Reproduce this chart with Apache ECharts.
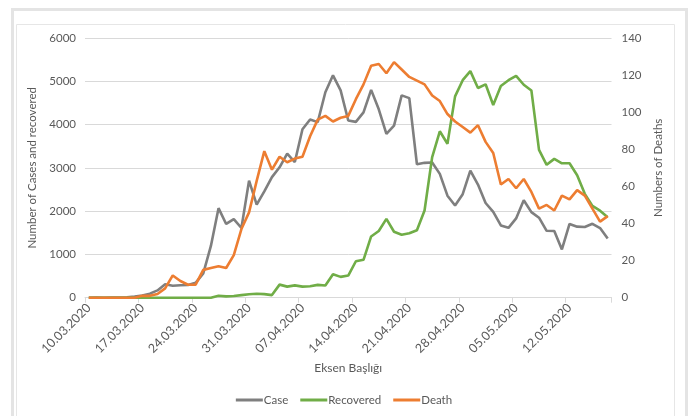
<!DOCTYPE html>
<html>
<head>
<meta charset="utf-8">
<style>
  html, body { margin: 0; padding: 0; background: #ffffff; }
  #chart { width: 688px; height: 416px; }
</style>
<script src="https://cdn.jsdelivr.net/npm/echarts@6/dist/echarts.min.js"></script>
</head>
<body>
<div id="chart"></div>
<script>
// Daily dates, 10.03.2020 – 17.05.2020
const dates = [
  '10.03.2020','11.03.2020','12.03.2020','13.03.2020','14.03.2020','15.03.2020','16.03.2020',
  '17.03.2020','18.03.2020','19.03.2020','20.03.2020','21.03.2020','22.03.2020','23.03.2020',
  '24.03.2020','25.03.2020','26.03.2020','27.03.2020','28.03.2020','29.03.2020','30.03.2020',
  '31.03.2020','01.04.2020','02.04.2020','03.04.2020','04.04.2020','05.04.2020','06.04.2020',
  '07.04.2020','08.04.2020','09.04.2020','10.04.2020','11.04.2020','12.04.2020','13.04.2020',
  '14.04.2020','15.04.2020','16.04.2020','17.04.2020','18.04.2020','19.04.2020','20.04.2020',
  '21.04.2020','22.04.2020','23.04.2020','24.04.2020','25.04.2020','26.04.2020','27.04.2020',
  '28.04.2020','29.04.2020','30.04.2020','01.05.2020','02.05.2020','03.05.2020','04.05.2020',
  '05.05.2020','06.05.2020','07.05.2020','08.05.2020','09.05.2020','10.05.2020','11.05.2020',
  '12.05.2020','13.05.2020','14.05.2020','15.05.2020','16.05.2020','17.05.2020'
];

// New cases per day
const cases = [
  0, 1, 0, 4, 1, 12, 29,
  51, 93, 168, 311, 277, 289, 293,
  343, 561, 1196, 2069, 1704, 1815, 1610,
  2704, 2148, 2456, 2786, 3013, 3330, 3135,
  3892, 4117, 4056, 4747, 5138, 4789, 4093,
  4062, 4281, 4801, 4353, 3783, 3977, 4674,
  4611, 3083, 3116, 3122, 2861, 2357, 2131,
  2392, 2936, 2615, 2188, 1983, 1670, 1614,
  1832, 2253, 1977, 1848, 1546, 1542, 1114,
  1704, 1641, 1635, 1708, 1610, 1368
];

// Recovered per day
const recovered = [
  0, 0, 0, 0, 0, 0, 0,
  0, 0, 0, 0, 0, 0, 0,
  0, 0, 0, 45, 30, 40, 60,
  80, 90, 82, 60, 302, 256, 284,
  256, 264, 296, 281, 542, 481, 511,
  842, 875, 1415, 1542, 1822, 1523, 1454,
  1488, 1559, 2014, 3250, 3845, 3558, 4651,
  5025, 5235, 4845, 4930, 4452, 4890, 5025,
  5127, 4920, 4788, 3415, 3070, 3207, 3105,
  3105, 2830, 2400, 2120, 2010, 1860
];

// Deaths per day (right axis)
const deaths = [
  0, 0, 0, 0, 0, 0, 0,
  1, 1, 2, 5, 12, 9, 7,
  7, 15, 16, 17, 16, 23, 37,
  46, 63, 79, 69, 76, 73, 75,
  76, 87, 96, 98, 95, 97, 98,
  107, 115, 125, 126, 121, 127, 123,
  119, 117, 115, 109, 106, 99, 95,
  92, 89, 93, 84, 78, 61, 64,
  59, 64, 57, 48, 50, 47, 55,
  53, 58, 55, 48, 41, 44
];

const leftTicks = { min: 0, max: 6000, interval: 1000 };
const rightTicks = { min: 0, max: 140, interval: 20 };

const FONT = 'Lato, "Open Sans", sans-serif';
const TEXT = '#595959';
const GRID = '#d9d9d9';

const chart = echarts.init(document.getElementById('chart'), null, { renderer: 'canvas' });

chart.setOption({
  backgroundColor: '#ffffff',
  animation: false,
  textStyle: { fontFamily: FONT },
  graphic: [
    {
      type: 'rect', silent: true, z: -10,
      shape: { x: 12.5, y: 9.5, width: 674, height: 412 },
      style: { fill: 'none', stroke: '#e4e4e4', lineWidth: 3 }
    },
    {
      type: 'rect', silent: true, z: -10,
      shape: { x: 16.5, y: 24.5, width: 658, height: 400 },
      style: { fill: 'none', stroke: '#e6e6e6', lineWidth: 1 }
    }
  ],
  grid: { left: 85, right: 76.5, top: 38, bottom: 118.3, containLabel: false },
  legend: {
    bottom: 5,
    left: 'center',
    itemWidth: 27,
    itemHeight: 3,
    itemGap: 12,
    icon: 'rect',
    textStyle: { color: TEXT, fontSize: 11.5, fontFamily: FONT, padding: [0, 0, 0, -4] },
    data: ['Case', 'Recovered', 'Death']
  },
  xAxis: {
    type: 'category',
    data: dates,
    boundaryGap: true,
    name: 'Eksen Başlığı',
    nameLocation: 'middle',
    nameGap: 61,
    nameTextStyle: { color: TEXT, fontSize: 12, fontFamily: FONT },
    axisLine: { lineStyle: { color: GRID, width: 1 } },
    axisTick: { show: true, interval: 6, alignWithLabel: false, length: 5, lineStyle: { color: GRID } },
    axisLabel: { interval: 6, rotate: 45, color: TEXT, fontSize: 12.5, fontFamily: FONT, margin: 8 },
    splitLine: { show: false }
  },
  yAxis: [
    {
      type: 'value',
      min: leftTicks.min, max: leftTicks.max, interval: leftTicks.interval,
      name: 'Number of Cases and recovered',
      nameLocation: 'middle',
      nameGap: 39,
      nameRotate: 90,
      nameTextStyle: { color: TEXT, fontSize: 11.5, fontFamily: FONT },
      axisLine: { show: false },
      axisTick: { show: false },
      axisLabel: { color: TEXT, fontSize: 11.5, fontFamily: FONT, margin: 9, formatter: v => String(v) },
      splitLine: { lineStyle: { color: GRID, width: 1 } }
    },
    {
      type: 'value',
      position: 'right',
      min: rightTicks.min, max: rightTicks.max, interval: rightTicks.interval,
      name: 'Numbers of Deaths',
      nameLocation: 'middle',
      nameGap: 35,
      nameRotate: 90,
      nameTextStyle: { color: TEXT, fontSize: 11.5, fontFamily: FONT },
      axisLine: { show: false },
      axisTick: { show: false },
      axisLabel: { color: TEXT, fontSize: 11.5, fontFamily: FONT, margin: 10 },
      splitLine: { show: false }
    }
  ],
  series: [
    {
      name: 'Case', type: 'line', yAxisIndex: 0, data: cases,
      symbol: 'none', smooth: false,
      lineStyle: { color: '#7f7f7f', width: 2.6 },
      itemStyle: { color: '#7f7f7f' },
      z: 3
    },
    {
      name: 'Recovered', type: 'line', yAxisIndex: 0, data: recovered,
      symbol: 'none', smooth: false,
      lineStyle: { color: '#70ad47', width: 2.6 },
      itemStyle: { color: '#70ad47' },
      z: 4
    },
    {
      name: 'Death', type: 'line', yAxisIndex: 1, data: deaths,
      symbol: 'none', smooth: false,
      lineStyle: { color: '#ed7d31', width: 2.6 },
      itemStyle: { color: '#ed7d31' },
      z: 5
    }
  ]
});
</script>
</body>
</html>
